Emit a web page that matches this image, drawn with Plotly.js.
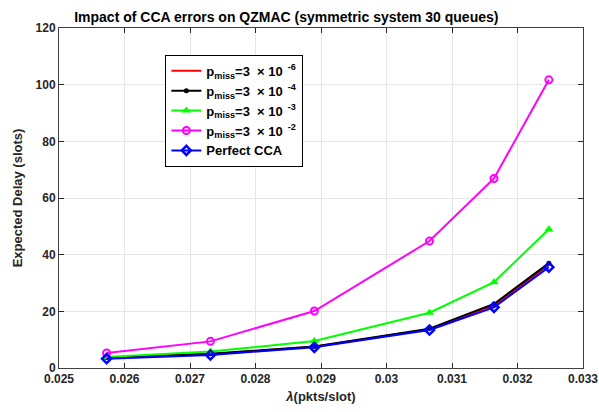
<!DOCTYPE html>
<html>
<head>
<meta charset="utf-8">
<script src="https://cdn.plot.ly/plotly-3.0.1.min.js"></script>
<style>html,body{margin:0;padding:0;background:#fff;}#chart{width:599px;height:412px;}</style>
</head>
<body>
<div id="chart"></div>
<script>
// Data
const lambda = [0.025727, 0.027312, 0.028898, 0.030656, 0.031641, 0.032479];
const delayMiss6 = [3.5, 4.8, 7.5, 13.7, 22.0, 36.5];
const delayMiss4 = [3.7, 5.0, 7.6, 13.9, 22.6, 37.0];
const delayMiss3 = [3.9, 5.8, 9.5, 19.5, 30.3, 49.0];
const delayMiss2 = [5.3, 9.4, 20.1, 44.8, 66.9, 101.7];
const delayPerfect = [3.3, 4.6, 7.3, 13.4, 21.4, 35.6];
const xTicks = [0.025, 0.026, 0.027, 0.028, 0.029, 0.03, 0.031, 0.032, 0.033];
const xTickText = ["0.025","0.026","0.027","0.028","0.029","0.03","0.031","0.032","0.033"];
const yTicks = [0, 20, 40, 60, 80, 100, 120];

const names = [
  "p<sub>miss</sub>=3  × 10<sup>  -6</sup>",
  "p<sub>miss</sub>=3  × 10<sup>  -4</sup>",
  "p<sub>miss</sub>=3  × 10<sup>  -3</sup>",
  "p<sub>miss</sub>=3  × 10<sup>  -2</sup>",
  "Perfect CCA"
];

const traces = [
  {x: lambda, y: delayMiss6, name: names[0], mode: 'lines', line: {color: '#ff0000', width: 2}},
  {x: lambda, y: delayMiss4, name: names[1], mode: 'lines+markers', line: {color: '#000000', width: 2},
   marker: {symbol: 'circle', size: 5, color: '#000000'}},
  {x: lambda, y: delayMiss3, name: names[2], mode: 'lines+markers', line: {color: '#00ff00', width: 2},
   marker: {symbol: 'triangle-up', size: 8, color: '#00ff00'}},
  {x: lambda, y: delayMiss2, name: names[3], mode: 'lines+markers', line: {color: '#ff00ff', width: 2},
   marker: {symbol: 'circle-open', size: 7, color: '#ff00ff', line: {width: 2}}},
  {x: lambda, y: delayPerfect, name: names[4], mode: 'lines+markers', line: {color: '#0000ff', width: 2},
   marker: {symbol: 'diamond-open', size: 7, color: '#0000ff', line: {width: 2.5}}}
];

const fontFam = 'Liberation Sans, Arial, Helvetica, sans-serif';
const layout = {
  width: 599, height: 412,
  margin: {l: 59, r: 16, t: 28, b: 44},
  paper_bgcolor: '#ffffff', plot_bgcolor: '#ffffff',
  font: {family: fontFam, size: 12, color: '#262626', weight: 'bold'},
  title: {text: 'Impact of CCA errors on QZMAC (symmetric system 30 queues)',
          font: {family: fontFam, size: 14, color: '#000000', weight: 'bold'},
          x: 0.478, xanchor: 'center', y: 0.958, yanchor: 'middle', xref: 'container', yref: 'container'},
  xaxis: {
    range: [0.025, 0.03300001], tickvals: xTicks, ticktext: xTickText,
    ticks: 'inside', ticklen: 5, tickcolor: '#262626', mirror: 'ticks',
    showline: true, linecolor: '#404040', linewidth: 1,
    showgrid: true, gridcolor: '#e6e6e6', zeroline: false,
    ticklabeloverflow: 'allow',
    tickfont: {family: fontFam, size: 12, color: '#262626', weight: 'bold'},
    title: {text: '<i>λ</i>(pkts/slot)', standoff: 6,
            font: {family: fontFam, size: 13, color: '#262626', weight: 'bold'}}
  },
  yaxis: {
    range: [0, 120], tickvals: yTicks,
    ticks: 'inside', ticklen: 5, tickcolor: '#262626', mirror: 'ticks',
    showline: true, linecolor: '#404040', linewidth: 1,
    showgrid: true, gridcolor: '#e6e6e6', zeroline: false,
    tickfont: {family: fontFam, size: 12, color: '#262626', weight: 'bold'},
    title: {text: 'Expected Delay (slots)', standoff: 10,
            font: {family: fontFam, size: 13, color: '#262626', weight: 'bold'}}
  },
  legend: {
    x: 0.203, y: 0.921, xanchor: 'left', yanchor: 'top',
    bgcolor: '#ffffff', bordercolor: '#000000', borderwidth: 1,
    font: {family: fontFam, size: 13, color: '#000000', weight: 'bold'},
    tracegroupgap: 0, itemwidth: 30
  },
  showlegend: true
};

Plotly.newPlot('chart', traces, layout, {displayModeBar: false, staticPlot: true});
</script>
</body>
</html>
